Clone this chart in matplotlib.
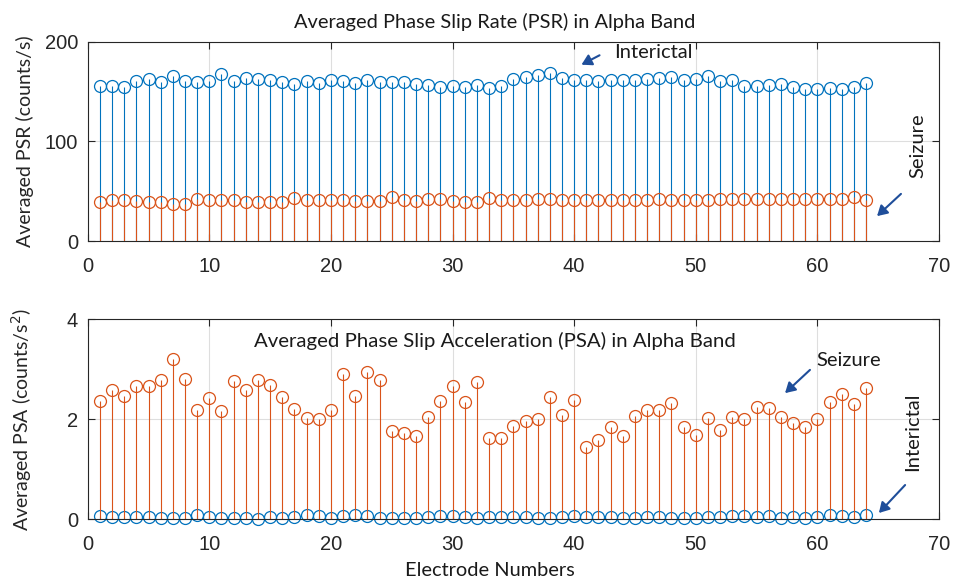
import matplotlib
matplotlib.use("Agg")
import matplotlib.pyplot as plt
import numpy as np

electrodes = list(range(1, 65))

psr_interictal = [156, 156, 155, 161, 163, 160, 166, 161, 160, 161,
                  168, 161, 164, 163, 162, 160, 158, 161, 159, 162,
                  161, 159, 162, 160, 160, 160, 158, 157, 155, 156,
                  155, 157, 154, 156, 163, 165, 167, 169, 164, 162,
                  162, 161, 162, 162, 162, 163, 164, 165, 162, 163,
                  166, 161, 162, 156, 156, 157, 158, 155, 153, 153,
                  154, 153, 155, 159]
psr_seizure = [39, 41, 41, 40, 39, 39, 37, 37, 42, 41,
               41, 41, 39, 39, 39, 39, 43, 41, 41, 41,
               41, 40, 40, 40, 44, 41, 40, 42, 42, 40,
               39, 39, 43, 41, 41, 41, 42, 42, 41, 41,
               41, 41, 41, 41, 41, 41, 42, 41, 41, 41,
               41, 42, 42, 42, 42, 42, 42, 42, 42, 42,
               42, 42, 44, 41]

psa_seizure = [2.37, 2.58, 2.47, 2.67, 2.67, 2.79, 3.21, 2.81, 2.18, 2.43,
               2.17, 2.76, 2.59, 2.79, 2.69, 2.45, 2.21, 2.03, 2.01, 2.19,
               2.90, 2.47, 2.95, 2.79, 1.77, 1.72, 1.67, 2.05, 2.37, 2.67,
               2.35, 2.75, 1.63, 1.63, 1.87, 1.97, 2.01, 2.45, 2.08, 2.38,
               1.45, 1.58, 1.84, 1.67, 2.06, 2.19, 2.18, 2.33, 1.85, 1.69,
               2.03, 1.79, 2.04, 2.01, 2.24, 2.22, 2.05, 1.93, 1.85, 2.00,
               2.35, 2.50, 2.31, 2.62]
psa_interictal = [0.07, 0.04, 0.05, 0.05, 0.04, 0.03, 0.03, 0.03, 0.08, 0.04,
                  0.03, 0.03, 0.03, 0.01, 0.04, 0.03, 0.04, 0.09, 0.07, 0.02,
                  0.07, 0.08, 0.07, 0.03, 0.03, 0.03, 0.03, 0.05, 0.06, 0.06,
                  0.05, 0.02, 0.04, 0.04, 0.04, 0.04, 0.03, 0.03, 0.05, 0.07,
                  0.05, 0.04, 0.05, 0.03, 0.03, 0.04, 0.04, 0.03, 0.03, 0.03,
                  0.05, 0.05, 0.07, 0.07, 0.04, 0.06, 0.03, 0.04, 0.03, 0.05,
                  0.09, 0.07, 0.05, 0.08]

x_ticks = [0, 10, 20, 30, 40, 50, 60, 70]
psr_ticks = [0, 100, 200]
psa_ticks = [0, 2, 4]

BLUE = "#0072BD"
ORANGE = "#D95319"
ARROW = "#1F4E9A"
CAL = ["Lato", "DejaVu Sans"]
TICKF = ["Liberation Sans", "DejaVu Sans"]

W, H = 954, 581
fig = plt.figure(figsize=(W / 100, H / 100), dpi=100)


def px(x, y):
    return x / W, 1 - y / H


def stems(ax, x, y, color):
    ml, sl, bl = ax.stem(x, y, linefmt="-", markerfmt="o", basefmt=" ")
    sl.set_color(color)
    sl.set_linewidth(0.8)
    ml.set_markerfacecolor("none")
    ml.set_markeredgecolor(color)
    ml.set_markersize(8.6)
    ml.set_markeredgewidth(0.9)
    ml.set_clip_on(False)
    bl.set_visible(False)


def style(ax, yticks, ylim):
    ax.set_xlim(0, 70)
    ax.set_ylim(*ylim)
    ax.set_xticks(x_ticks)
    ax.set_yticks(yticks)
    ax.grid(True, color="#262626", alpha=0.15, linewidth=0.8)
    ax.set_axisbelow(True)
    ax.tick_params(direction="in", top=True, right=True, length=5,
                   width=0.8, color="#262626", labelsize=14.5)
    ax.tick_params(axis="x", pad=11)
    ax.tick_params(axis="y", pad=7)
    for lab in ax.get_xticklabels() + ax.get_yticklabels():
        lab.set_family(TICKF)
        lab.set_color("#262626")
    for s in ax.spines.values():
        s.set_color("#262626")
        s.set_linewidth(0.8)


ax1 = fig.add_axes([87.7 / W, 1 - 241.3 / H, (939 - 87.7) / W, 199.6 / H])
stems(ax1, electrodes, psr_interictal, BLUE)
stems(ax1, electrodes, psr_seizure, ORANGE)
style(ax1, psr_ticks, (0, 200))
ax1.set_ylabel("Averaged PSR (counts/s)", family=CAL, fontsize=14,
               color="#262626")

ax2 = fig.add_axes([87.7 / W, 1 - 519.3 / H, (939 - 87.7) / W, 200 / H])
stems(ax2, electrodes, psa_interictal, BLUE)
stems(ax2, electrodes, psa_seizure, ORANGE)
style(ax2, psa_ticks, (0, 4))
ax2.set_ylabel("Averaged PSA (counts/s$^2$)", family=CAL, fontsize=14,
               color="#262626")

ax1.yaxis.set_label_coords(-0.063, 0.5)
ax2.yaxis.set_label_coords(-0.063, 0.5)

fig.text(*px(495, 22), "Averaged Phase Slip Rate (PSR) in Alpha Band",
         family=CAL, fontsize=14.4, ha="center", va="center", color="#1a1a1a")
fig.text(*px(490, 570), "Electrode Numbers", family=CAL, fontsize=14.4,
         ha="center", va="center", color="#1a1a1a")
fig.text(*px(495, 341), "Averaged Phase Slip Acceleration (PSA) in Alpha Band",
         family=CAL, fontsize=14.7, ha="center", va="center", color="#1a1a1a")

# annotations
fig.text(*px(653, 53), "Interictal", family=CAL, fontsize=14.5,
         ha="center", va="center", color="#1a1a1a")
fig.text(*px(918, 146), "Seizure", family=CAL, fontsize=14.5, rotation=90,
         ha="center", va="center", color="#1a1a1a")
fig.text(*px(849, 361), "Seizure", family=CAL, fontsize=14.5,
         ha="center", va="center", color="#1a1a1a")
fig.text(*px(913, 432), "Interictal", family=CAL, fontsize=14.5, rotation=90,
         ha="center", va="center", color="#1a1a1a")

arrows = [((602, 54), (579, 66)), ((903, 192), (875, 218)),
          ((812, 368), (783, 395)), ((907, 483), (877, 515))]
for (x0, y0), (x1, y1) in arrows:
    fig.add_artist(matplotlib.patches.FancyArrowPatch(
        px(x0, y0), px(x1, y1), transform=fig.transFigure,
        arrowstyle="-|>,head_length=6,head_width=3.5", color=ARROW,
        linewidth=1.5, mutation_scale=1))

fig.savefig("out.png", dpi=100)
